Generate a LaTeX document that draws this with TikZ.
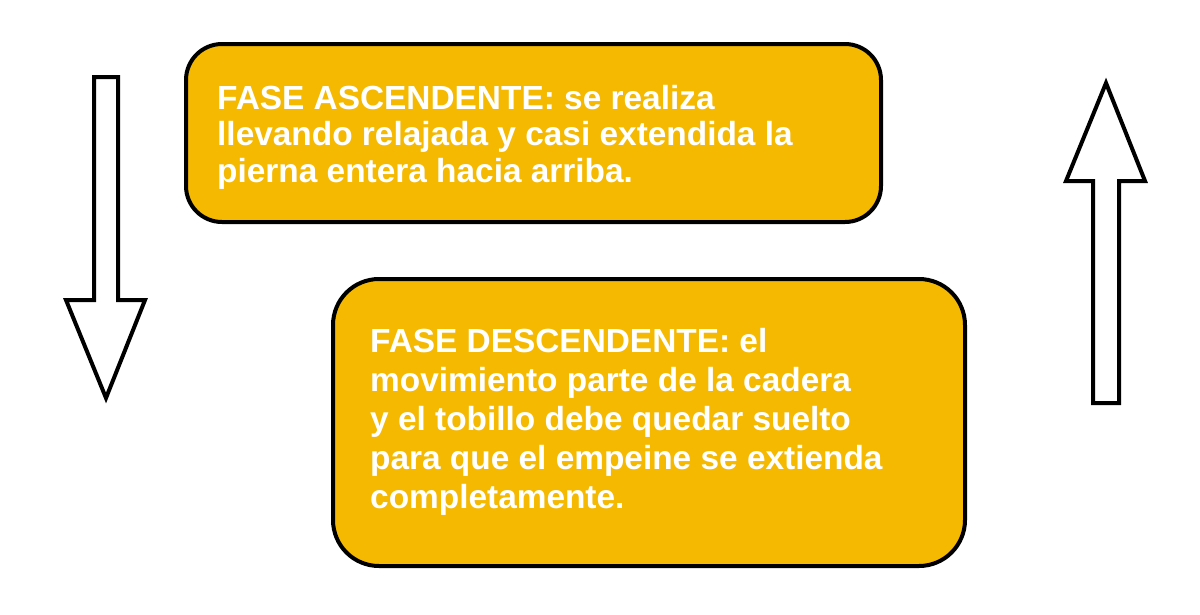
\documentclass[tikz,border=0pt]{standalone}
\usepackage{fontspec}
\setmainfont{Liberation Sans}
\definecolor{boxfill}{RGB}{244,185,0}
\tikzset{
  phasebox/.style={draw=black, line width=4pt, fill=boxfill, rounded corners=#1, rectangle, anchor=north west, inner sep=0pt},
  phasetext/.style={anchor=base west, align=left, text=white, inner sep=0pt, font=\bfseries\fontsize{33.4}{#1}\selectfont},
  hollowarrow/.style={draw=black, line width=4pt, fill=white, line join=miter}
}
\begin{document}
\begin{tikzpicture}[x=1pt,y=-1pt]
\useasboundingbox (0,0) rectangle (1200,614);
% boxes
\node[phasebox=36pt, minimum width=695pt, minimum height=178pt] (up) at (184,42) {};
\node[phasebox=46pt, minimum width=632pt, minimum height=287pt] (down) at (331,277) {};
% texts (anchored at the baseline of the last line)
\node[phasetext=36.5pt] (uptext) at (217,182) {FASE ASCENDENTE: se realiza\\llevando relajada y casi extendida la\\pierna entera hacia arriba.};
\node[phasetext=39pt] (downtext) at (370,508) {FASE DESCENDENTE: el\\movimiento parte de la cadera\\y el tobillo debe quedar suelto\\para que el empeine se extienda\\completamente.};
% left arrow (down)
\draw[hollowarrow] (94,77) -- (118,77) -- (118,300) -- (145,300) -- (106,398) -- (66,300) -- (94,300) -- cycle;
% right arrow (up)
\draw[hollowarrow] (1093,403) -- (1119,403) -- (1119,181) -- (1145,181) -- (1106,83) -- (1066,181) -- (1093,181) -- cycle;
\end{tikzpicture}
\end{document}
